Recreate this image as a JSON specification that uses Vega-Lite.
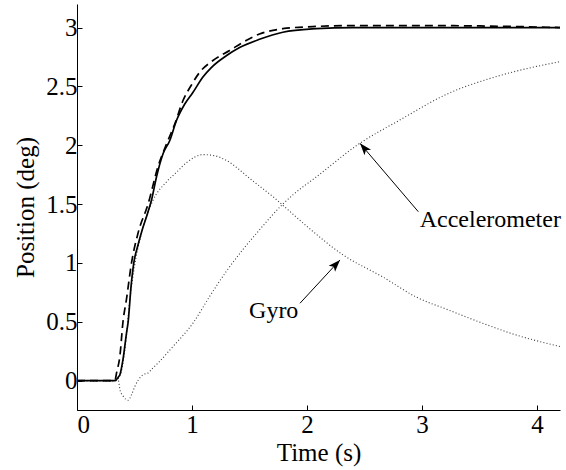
{
  "$schema": "https://vega.github.io/schema/vega-lite/v6.json",
  "autosize": {"type": "none"},
  "width": 483,
  "height": 406,
  "padding": {"left": 77, "top": 4, "right": 6, "bottom": 60},
  "background": "white",
  "config": {
    "view": {"stroke": null},
    "font": "Liberation Serif",
    "axis": {
      "grid": false,
      "domainColor": "black",
      "tickColor": "black",
      "tickSize": -5,
      "labelFont": "Liberation Serif",
      "labelFontSize": 25,
      "labelColor": "black",
      "titleFont": "Liberation Serif",
      "titleFontSize": 25,
      "titleFontWeight": "normal",
      "titleColor": "black"
    }
  },
  "datasets": {
    "curves": [
      {"series": "estimate", "t": 0, "v": 0},
      {"series": "estimate", "t": 0.33, "v": 0},
      {"series": "estimate", "t": 0.36, "v": 0.03},
      {"series": "estimate", "t": 0.373, "v": 0.05},
      {"series": "estimate", "t": 0.40, "v": 0.18},
      {"series": "estimate", "t": 0.43, "v": 0.40},
      {"series": "estimate", "t": 0.445, "v": 0.5},
      {"series": "estimate", "t": 0.47, "v": 0.8},
      {"series": "estimate", "t": 0.494, "v": 1.0},
      {"series": "estimate", "t": 0.53, "v": 1.15},
      {"series": "estimate", "t": 0.57, "v": 1.29},
      {"series": "estimate", "t": 0.61, "v": 1.41},
      {"series": "estimate", "t": 0.648, "v": 1.534},
      {"series": "estimate", "t": 0.691, "v": 1.73},
      {"series": "estimate", "t": 0.749, "v": 1.93},
      {"series": "estimate", "t": 0.807, "v": 2.04},
      {"series": "estimate", "t": 0.865, "v": 2.21},
      {"series": "estimate", "t": 0.937, "v": 2.35},
      {"series": "estimate", "t": 1.009, "v": 2.45},
      {"series": "estimate", "t": 1.095, "v": 2.58},
      {"series": "estimate", "t": 1.168, "v": 2.66},
      {"series": "estimate", "t": 1.298, "v": 2.76},
      {"series": "estimate", "t": 1.414, "v": 2.83},
      {"series": "estimate", "t": 1.587, "v": 2.90},
      {"series": "estimate", "t": 1.79, "v": 2.96},
      {"series": "estimate", "t": 2.08, "v": 2.99},
      {"series": "estimate", "t": 2.4, "v": 3.0},
      {"series": "estimate", "t": 3.0, "v": 3.0},
      {"series": "estimate", "t": 3.6, "v": 3.0},
      {"series": "estimate", "t": 4.2, "v": 3.0},

      {"series": "reference", "t": 0, "v": 0},
      {"series": "reference", "t": 0.33, "v": 0},
      {"series": "reference", "t": 0.344, "v": 0.065},
      {"series": "reference", "t": 0.373, "v": 0.21},
      {"series": "reference", "t": 0.40, "v": 0.5},
      {"series": "reference", "t": 0.43, "v": 0.69},
      {"series": "reference", "t": 0.474, "v": 1.0},
      {"series": "reference", "t": 0.53, "v": 1.25},
      {"series": "reference", "t": 0.618, "v": 1.5},
      {"series": "reference", "t": 0.705, "v": 1.82},
      {"series": "reference", "t": 0.778, "v": 2.01},
      {"series": "reference", "t": 0.85, "v": 2.18},
      {"series": "reference", "t": 0.922, "v": 2.38},
      {"series": "reference", "t": 0.994, "v": 2.51},
      {"series": "reference", "t": 1.067, "v": 2.62},
      {"series": "reference", "t": 1.182, "v": 2.72},
      {"series": "reference", "t": 1.327, "v": 2.805},
      {"series": "reference", "t": 1.47, "v": 2.89},
      {"series": "reference", "t": 1.587, "v": 2.945},
      {"series": "reference", "t": 1.79, "v": 2.99},
      {"series": "reference", "t": 2.1, "v": 3.01},
      {"series": "reference", "t": 2.4, "v": 3.017},
      {"series": "reference", "t": 3.0, "v": 3.017},
      {"series": "reference", "t": 3.6, "v": 3.012},
      {"series": "reference", "t": 4.2, "v": 3.0},

      {"series": "gyro", "t": 0, "v": 0},
      {"series": "gyro", "t": 0.33, "v": 0},
      {"series": "gyro", "t": 0.373, "v": 0.04},
      {"series": "gyro", "t": 0.416, "v": 0.26},
      {"series": "gyro", "t": 0.46, "v": 0.69},
      {"series": "gyro", "t": 0.50, "v": 0.97},
      {"series": "gyro", "t": 0.56, "v": 1.25},
      {"series": "gyro", "t": 0.66, "v": 1.53},
      {"series": "gyro", "t": 0.78, "v": 1.69},
      {"series": "gyro", "t": 0.865, "v": 1.77},
      {"series": "gyro", "t": 0.95, "v": 1.85},
      {"series": "gyro", "t": 1.095, "v": 1.92},
      {"series": "gyro", "t": 1.2, "v": 1.91},
      {"series": "gyro", "t": 1.30, "v": 1.87},
      {"series": "gyro", "t": 1.5, "v": 1.72},
      {"series": "gyro", "t": 1.59, "v": 1.65},
      {"series": "gyro", "t": 1.72, "v": 1.55},
      {"series": "gyro", "t": 1.79, "v": 1.49},
      {"series": "gyro", "t": 2.0, "v": 1.31},
      {"series": "gyro", "t": 2.31, "v": 1.07},
      {"series": "gyro", "t": 2.66, "v": 0.88},
      {"series": "gyro", "t": 2.95, "v": 0.71},
      {"series": "gyro", "t": 3.23, "v": 0.60},
      {"series": "gyro", "t": 3.52, "v": 0.49},
      {"series": "gyro", "t": 3.81, "v": 0.39},
      {"series": "gyro", "t": 4.2, "v": 0.29},

      {"series": "accelerometer", "t": 0, "v": 0},
      {"series": "accelerometer", "t": 0.33, "v": 0},
      {"series": "accelerometer", "t": 0.36, "v": 0},
      {"series": "accelerometer", "t": 0.373, "v": -0.076},
      {"series": "accelerometer", "t": 0.40, "v": -0.13},
      {"series": "accelerometer", "t": 0.445, "v": -0.167},
      {"series": "accelerometer", "t": 0.474, "v": -0.12},
      {"series": "accelerometer", "t": 0.503, "v": -0.05},
      {"series": "accelerometer", "t": 0.53, "v": 0.0},
      {"series": "accelerometer", "t": 0.575, "v": 0.05},
      {"series": "accelerometer", "t": 0.618, "v": 0.065},
      {"series": "accelerometer", "t": 0.66, "v": 0.107},
      {"series": "accelerometer", "t": 0.705, "v": 0.15},
      {"series": "accelerometer", "t": 0.835, "v": 0.29},
      {"series": "accelerometer", "t": 1.01, "v": 0.49},
      {"series": "accelerometer", "t": 1.15, "v": 0.71},
      {"series": "accelerometer", "t": 1.30, "v": 0.93},
      {"series": "accelerometer", "t": 1.44, "v": 1.11},
      {"series": "accelerometer", "t": 1.56, "v": 1.25},
      {"series": "accelerometer", "t": 1.79, "v": 1.50},
      {"series": "accelerometer", "t": 1.88, "v": 1.58},
      {"series": "accelerometer", "t": 2.08, "v": 1.73},
      {"series": "accelerometer", "t": 2.45, "v": 2.01},
      {"series": "accelerometer", "t": 2.80, "v": 2.21},
      {"series": "accelerometer", "t": 3.23, "v": 2.44},
      {"series": "accelerometer", "t": 3.67, "v": 2.59},
      {"series": "accelerometer", "t": 4.2, "v": 2.71}
    ],
    "notes": [
      {"label": "Accelerometer", "tx": 2.98, "ty": 1.308, "t0": 2.968, "v0": 1.435, "t1": 2.461, "v1": 2.016},
      {"label": "Gyro", "tx": 1.925, "ty": 0.532, "t0": 1.939, "v0": 0.657, "t1": 2.287, "v1": 1.025}
    ]
  },
  "layer": [
    {
      "data": {"name": "curves"},
      "transform": [{"filter": "datum.series === 'gyro' || datum.series === 'accelerometer'"}],
      "mark": {"type": "line", "color": "#3a3a3a", "strokeWidth": 1.1, "strokeDash": [1, 2.2], "interpolate": "monotone"},
      "encoding": {
        "x": {
          "field": "t", "type": "quantitative",
          "scale": {"domain": [0, 4.2], "nice": false, "zero": false},
          "axis": {"title": "Time (s)", "values": [0, 1, 2, 3, 4], "format": "d", "labelPadding": 7, "titleY": 50, "titleBaseline": "alphabetic"}
        },
        "y": {
          "field": "v", "type": "quantitative",
          "scale": {"domain": [-0.25, 3.2], "nice": false, "zero": false},
          "axis": {"title": "Position (deg)", "values": [0, 0.5, 1, 1.5, 2, 2.5, 3], "format": "~g", "labelPadding": 5, "titleAngle": -90, "titleX": -44, "titleY": 203, "titleAlign": "center", "titleBaseline": "alphabetic"}
        },
        "detail": {"field": "series"},
        "order": {"field": "t", "type": "quantitative"}
      }
    },
    {
      "data": {"name": "curves"},
      "transform": [{"filter": "datum.series === 'reference'"}],
      "mark": {"type": "line", "color": "black", "strokeWidth": 1.7, "strokeDash": [8, 5], "interpolate": "monotone"},
      "encoding": {
        "x": {"field": "t", "type": "quantitative"},
        "y": {"field": "v", "type": "quantitative"},
        "order": {"field": "t", "type": "quantitative"}
      }
    },
    {
      "data": {"name": "curves"},
      "transform": [{"filter": "datum.series === 'estimate'"}],
      "mark": {"type": "line", "color": "black", "strokeWidth": 1.7, "interpolate": "monotone"},
      "encoding": {
        "x": {"field": "t", "type": "quantitative"},
        "y": {"field": "v", "type": "quantitative"},
        "order": {"field": "t", "type": "quantitative"}
      }
    },
    {
      "data": {"name": "notes"},
      "mark": {"type": "rule", "color": "black", "strokeWidth": 1},
      "encoding": {
        "x": {"field": "t0", "type": "quantitative"},
        "y": {"field": "v0", "type": "quantitative"},
        "x2": {"field": "t1"},
        "y2": {"field": "v1"}
      }
    },
    {
      "data": {"name": "notes"},
      "transform": [{"filter": "datum.label === 'Accelerometer'"}],
      "mark": {"type": "point", "filled": true, "color": "black", "opacity": 1, "size": 576, "angle": 319.6, "shape": "M0,0 L-0.36,1 L0,0.76 L0.36,1 Z"},
      "encoding": {
        "x": {"field": "t1", "type": "quantitative"},
        "y": {"field": "v1", "type": "quantitative"}
      }
    },
    {
      "data": {"name": "notes"},
      "transform": [{"filter": "datum.label === 'Gyro'"}],
      "mark": {"type": "point", "filled": true, "color": "black", "opacity": 1, "size": 576, "angle": 42.7, "shape": "M0,0 L-0.36,1 L0,0.76 L0.36,1 Z"},
      "encoding": {
        "x": {"field": "t1", "type": "quantitative"},
        "y": {"field": "v1", "type": "quantitative"}
      }
    },
    {
      "data": {"name": "notes"},
      "transform": [{"filter": "datum.label === 'Accelerometer'"}],
      "mark": {"type": "text", "font": "Liberation Serif", "fontSize": 24, "color": "black", "baseline": "alphabetic", "align": "left"},
      "encoding": {
        "x": {"field": "tx", "type": "quantitative"},
        "y": {"field": "ty", "type": "quantitative"},
        "text": {"field": "label"}
      }
    },
    {
      "data": {"name": "notes"},
      "transform": [{"filter": "datum.label === 'Gyro'"}],
      "mark": {"type": "text", "font": "Liberation Serif", "fontSize": 24, "color": "black", "baseline": "alphabetic", "align": "right"},
      "encoding": {
        "x": {"field": "tx", "type": "quantitative"},
        "y": {"field": "ty", "type": "quantitative"},
        "text": {"field": "label"}
      }
    }
  ]
}
